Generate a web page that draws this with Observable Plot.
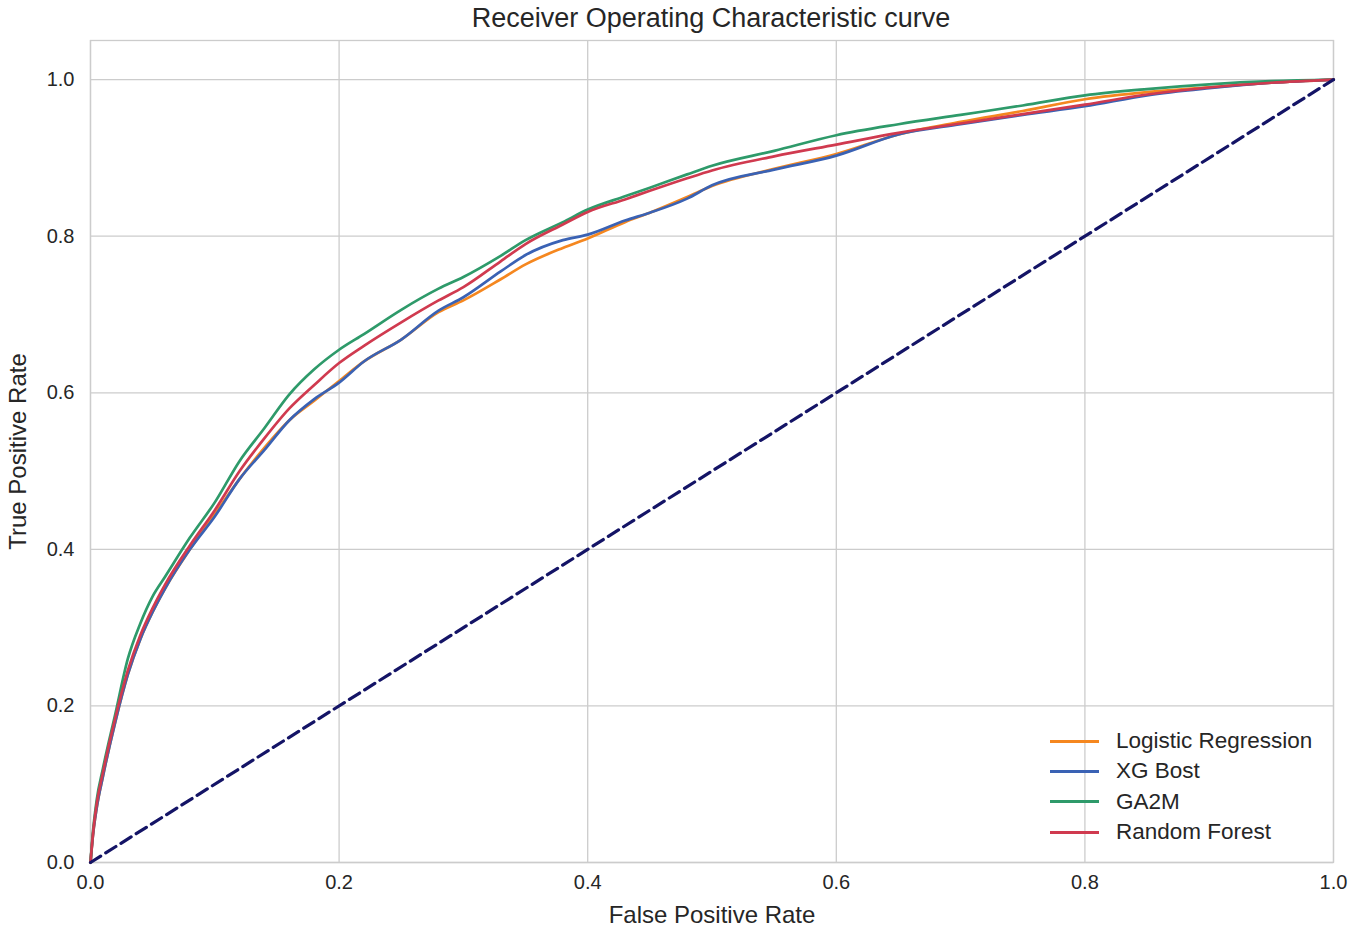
<!DOCTYPE html>
<html>
<head>
<meta charset="utf-8">
<script src="https://cdn.jsdelivr.net/npm/d3@7"></script>
<script src="https://cdn.jsdelivr.net/npm/@observablehq/plot@0.6"></script>
<style>
  html, body { margin: 0; padding: 0; background: #fff; }
  body { width: 1358px; height: 931px; position: relative; overflow: hidden; font-family: "Liberation Sans", Arial, sans-serif; }
  #title { position: absolute; left: 0; top: 3px; width: 1422px; text-align: center; font-size: 27px; color: #262626; line-height: 30px; }
  #chart { position: absolute; left: 0; top: 39px; }
  #legend { position: absolute; left: 1050px; top: 726px; font-size: 22.5px; color: #262626; }
  .row { height: 30.3px; display: flex; align-items: center; }
  .sw { width: 49px; height: 3px; margin-right: 17px; }
</style>
</head>
<body>
<div id="title">Receiver Operating Characteristic curve</div>
<div id="chart"></div>
<div id="legend"></div>
<script>
// ---- data ----
const fpr = [0, 0.002, 0.005, 0.01, 0.02, 0.03, 0.04, 0.05, 0.06, 0.08, 0.1, 0.12, 0.14, 0.16, 0.18, 0.2, 0.22, 0.25, 0.28, 0.3, 0.33, 0.35, 0.38, 0.4, 0.43, 0.45, 0.48, 0.5, 0.55, 0.6, 0.65, 0.7, 0.75, 0.8, 0.85, 0.9, 0.95, 1.0];

const tprLogistic = [0, 0.035, 0.07, 0.11, 0.18, 0.24, 0.285, 0.32, 0.35, 0.4, 0.445, 0.49, 0.53, 0.565, 0.59, 0.615, 0.64, 0.668, 0.703, 0.718, 0.745, 0.764, 0.785, 0.797, 0.818, 0.83, 0.85, 0.864, 0.886, 0.905, 0.93, 0.946, 0.96, 0.975, 0.984, 0.99, 0.996, 1.0];
const tprXGB = [0, 0.035, 0.07, 0.11, 0.18, 0.24, 0.285, 0.32, 0.35, 0.4, 0.442, 0.49, 0.527, 0.565, 0.592, 0.613, 0.64, 0.668, 0.705, 0.722, 0.755, 0.776, 0.795, 0.802, 0.82, 0.83, 0.848, 0.865, 0.885, 0.903, 0.93, 0.943, 0.955, 0.966, 0.98, 0.989, 0.996, 1.0];
const tprGA2M = [0, 0.04, 0.08, 0.12, 0.19, 0.26, 0.305, 0.34, 0.365, 0.415, 0.46, 0.513, 0.555, 0.598, 0.63, 0.655, 0.675, 0.706, 0.733, 0.748, 0.775, 0.795, 0.818, 0.834, 0.851, 0.862, 0.879, 0.89, 0.909, 0.929, 0.943, 0.955, 0.967, 0.98, 0.988, 0.994, 0.998, 1.0];
const tprRF = [0, 0.037, 0.075, 0.115, 0.185, 0.245, 0.29, 0.325, 0.355, 0.405, 0.45, 0.5, 0.542, 0.58, 0.61, 0.638, 0.66, 0.69, 0.718, 0.735, 0.768, 0.79, 0.815, 0.831, 0.847, 0.858, 0.874, 0.884, 0.902, 0.917, 0.932, 0.944, 0.956, 0.968, 0.981, 0.99, 0.996, 1.0];

const models = ["Logistic Regression", "XG Bost", "GA2M", "Random Forest"];
const modelColors = ["#f5871f", "#3a62b4", "#2e9a6a", "#d03a4f"];
const tprSeries = [tprLogistic, tprXGB, tprGA2M, tprRF];

const chanceX = [0, 1];
const chanceY = [0, 1];

const xTicks = [0, 0.2, 0.4, 0.6, 0.8, 1.0];
const yTicks = [0, 0.2, 0.4, 0.6, 0.8, 1.0];

const xLabel = "False Positive Rate";
const yLabel = "True Positive Rate";

// ---- build table ----
const rows = [];
models.forEach((m, i) => fpr.forEach((f, j) => rows.push({model: m, fpr: f, tpr: tprSeries[i][j]})));
const chance = chanceX.map((x, i) => ({x, y: chanceY[i]}));

const chart = Plot.plot({
  width: 1358,
  height: 892,
  marginTop: 1,
  marginBottom: 69,
  marginLeft: 90,
  marginRight: 25,
  style: {fontFamily: "'Liberation Sans', Arial, sans-serif", fontSize: "20px", color: "#262626", background: "#fff"},
  x: {domain: [0, 1]},
  y: {domain: [0, 1.05]},
  color: {domain: models, range: modelColors},
  marks: [
    Plot.gridX(xTicks, {stroke: "#cccccc", strokeOpacity: 1, strokeWidth: 1.3}),
    Plot.gridY(yTicks, {stroke: "#cccccc", strokeOpacity: 1, strokeWidth: 1.3}),
    Plot.frame({stroke: "#cccccc", strokeWidth: 1.3}),
    Plot.axisX(xTicks, {tickSize: 0, tickPadding: 12, tickFormat: d3.format(".1f"), label: null, fontSize: 20}),
    Plot.axisY(yTicks, {tickSize: 0, tickPadding: 16, tickFormat: d3.format(".1f"), label: null, fontSize: 20}),
    Plot.text([xLabel], {text: d => d, frameAnchor: "bottom", textAnchor: "middle", lineAnchor: "middle", dy: 53, fontSize: 24, fill: "#262626"}),
    Plot.text([yLabel], {text: d => d, frameAnchor: "left", textAnchor: "middle", dx: -72, rotate: -90, fontSize: 24, fill: "#262626"}),
    Plot.line(rows, {x: "fpr", y: "tpr", z: "model", stroke: "model", strokeWidth: 2.7, curve: "monotone-x"}),
    Plot.line(chance, {x: "x", y: "y", stroke: "#141466", strokeWidth: 3.2, strokeDasharray: "12,6"})
  ]
});
document.getElementById("chart").appendChild(chart);

// legend
const leg = document.getElementById("legend");
models.forEach((m, i) => {
  const r = document.createElement("div");
  r.className = "row";
  const s = document.createElement("div");
  s.className = "sw";
  s.style.background = modelColors[i];
  const t = document.createElement("span");
  t.textContent = m;
  r.appendChild(s); r.appendChild(t);
  leg.appendChild(r);
});
</script>
</body>
</html>
